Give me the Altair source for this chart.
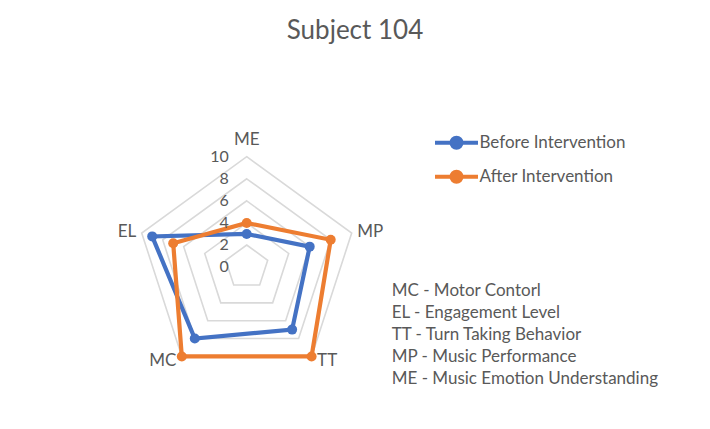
import altair as alt
import pandas as pd

# ---- data ----
title_text = "Subject 104"
categories = ["ME", "MP", "TT", "MC", "EL"]          # clockwise from top
before = [3, 6, 7, 8, 9]
after = [4, 8, 10, 10, 7]
series_names = ["Before Intervention", "After Intervention"]
series_colors = ["#4472C4", "#ED7D31"]
grid_levels = [0, 2, 4, 6, 8, 10]
notes = [
    "MC - Motor Contorl",
    "EL - Engagement Level",
    "TT - Turn Taking Behavior",
    "MP - Music Performance",
    "ME - Music Emotion Understanding",
]

FONT = "Lato"
TXT = "#595959"
n = len(categories)
rmax = max(grid_levels)

rows = []
for name, vals in zip(series_names, [before, after]):
    for i, (c, v) in enumerate(zip(categories, vals)):
        rows.append({"series": name, "category": c, "idx": i, "value": v})
df = pd.DataFrame(rows)
cat_df = pd.DataFrame({"category": categories, "idx": list(range(n))})
grid_df = pd.DataFrame([{"level": L, "idx": i} for L in grid_levels if L > 0 for i in range(n)])
level_df = pd.DataFrame({"level": grid_levels})
notes_df = pd.DataFrame({"text": ["\n".join(notes)]})

# ---- layout (pixels) ----
W, H = 710, 429
PX = 11.04            # pixels per unit
CX, CY = 246.7, 267.1  # radar centre
xs = alt.Scale(domain=[-CX / PX, (W - CX) / PX], nice=False, zero=False)
ys = alt.Scale(domain=[-(H - CY) / PX, CY / PX], nice=False, zero=False)
cscale = alt.Scale(domain=series_names, range=series_colors)

ang = f"datum.idx * 2 * PI / {n}"

sym_path = "M-3.07,0L3.07,0M-0.72,0A0.72,0.72,0,1,1,0.72,0A0.72,0.72,0,1,1,-0.72,0Z"
leg = alt.Legend(
    title=None, orient="none", legendX=447.5, legendY=133.7, padding=0,
    symbolType=sym_path, symbolSize=196, symbolStrokeWidth=4,
    labelFont=FONT, labelFontSize=17, labelColor=TXT, labelOffset=14,
    rowPadding=6,
)

grid = alt.Chart(grid_df).transform_calculate(
    a=ang, gx="datum.level * sin(datum.a)", gy="datum.level * cos(datum.a)"
).mark_line(interpolate="linear-closed", color="#D9D9D9", strokeWidth=1.6).encode(
    x=alt.X("gx:Q", scale=xs, axis=None),
    y=alt.Y("gy:Q", scale=ys, axis=None),
    detail="level:N",
    order="idx:Q",
)

base = alt.Chart(df).transform_calculate(
    a=ang, px="datum.value * sin(datum.a)", py="datum.value * cos(datum.a)"
)

lines = base.mark_line(interpolate="linear-closed", strokeWidth=4.2).encode(
    x=alt.X("px:Q", scale=xs, axis=None),
    y=alt.Y("py:Q", scale=ys, axis=None),
    stroke=alt.Stroke("series:N", scale=cscale, legend=leg),
    order="idx:Q",
)

points = base.mark_point(filled=True, size=100, opacity=1, strokeWidth=0).encode(
    x=alt.X("px:Q", scale=xs, axis=None),
    y=alt.Y("py:Q", scale=ys, axis=None),
    fill=alt.Fill("series:N", scale=cscale, legend=leg),
    stroke=alt.Stroke("series:N", scale=cscale, legend=leg),
)

ring_labels = alt.Chart(level_df).transform_calculate(zx="0").mark_text(
    align="right", baseline="middle", dx=-18, font=FONT, fontSize=16, color=TXT
).encode(
    x=alt.X("zx:Q", scale=xs, axis=None),
    y=alt.Y("level:Q", scale=ys, axis=None),
    text="level:Q",
)

cat_base = alt.Chart(cat_df).transform_calculate(
    a=ang, s="sin(datum.a)", c="cos(datum.a)",
    lx=f"{rmax} * datum.s",
    ly=f"datum.c > 0.99 ? {rmax} + 1.5 : (datum.c < 0 ? {rmax} * datum.c - 0.45 : {rmax} * datum.c + 0.1)",
)
cat_enc = dict(
    x=alt.X("lx:Q", scale=xs, axis=None),
    y=alt.Y("ly:Q", scale=ys, axis=None),
    text="category:N",
)
tstyle = dict(baseline="middle", font=FONT, fontSize=17, color=TXT)
cat_top = cat_base.transform_filter("abs(datum.s) < 0.01").mark_text(align="center", **tstyle).encode(**cat_enc)
cat_right = cat_base.transform_filter("datum.s > 0.01").mark_text(align="left", dx=5.5, **tstyle).encode(**cat_enc)
cat_left = cat_base.transform_filter("datum.s < -0.01").mark_text(align="right", dx=-5.5, **tstyle).encode(**cat_enc)

note_text = alt.Chart(notes_df).mark_text(
    align="left", baseline="alphabetic", lineBreak="\n", lineHeight=22,
    font=FONT, fontSize=17, color=TXT
).encode(x=alt.value(391.7), y=alt.value(296), text="text:N")

chart = alt.layer(
    grid, lines, points, ring_labels, cat_top, cat_right, cat_left, note_text
).properties(
    width=W, height=H, padding=0, autosize=alt.AutoSizeParams(type="none"),
    background="white",
    title=alt.TitleParams(
        title_text, fontSize=26, font=FONT, color=TXT, fontWeight="normal",
        anchor="middle", orient="top", baseline="alphabetic", offset=-65,
    ),
).configure_view(strokeWidth=0)

chart.save("out.html", embed_options={"renderer": "svg", "actions": False})
